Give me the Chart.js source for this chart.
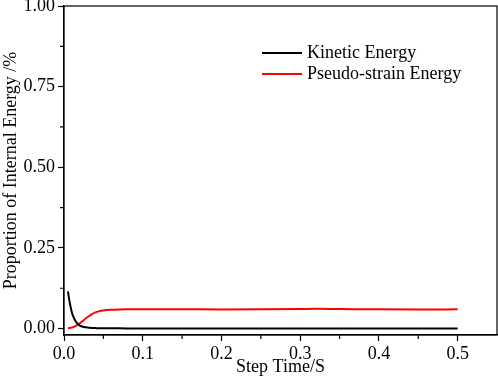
<!DOCTYPE html>
<html>
<head>
  <title>Internal Energy Proportion</title>
  <style>
    body { margin: 0; background: #fff; }
    canvas { display: block; }
  </style>
</head>
<body>
  <canvas id="energyChart" width="498" height="382"></canvas>

  <script src="https://cdn.jsdelivr.net/npm/chart.js"></script>
  <script>
    // values
    const stepTimes = [0.005, 0.0075, 0.01, 0.0125, 0.015, 0.0175, 0.02, 0.025, 0.03, 0.035, 0.04, 0.045, 0.05, 0.06, 0.07, 0.08, 0.1, 0.15, 0.2, 0.25, 0.3, 0.32, 0.35, 0.4, 0.45, 0.5];
    const kineticEnergy = [0.115, 0.078, 0.05, 0.033, 0.022, 0.014, 0.009, 0.005, 0.003, 0.002, 0.0015, 0.001, 0.001, 0.0008, 0.0006, 0.0005, 0.0004, 0.0003, 0.0003, 0.0003, 0.0003, 0.0003, 0.0003, 0.0003, 0.0003, 0.0003];
    const pseudoStrainEnergy = [0.002, 0.002, 0.003, 0.005, 0.008, 0.012, 0.016, 0.026, 0.036, 0.044, 0.05, 0.054, 0.056, 0.058, 0.059, 0.0595, 0.06, 0.06, 0.059, 0.0595, 0.0605, 0.061, 0.0605, 0.0595, 0.059, 0.0595];

    const xTicks = [0, 0.1, 0.2, 0.3, 0.4, 0.5];
    const yTicks = [0, 0.25, 0.5, 0.75, 1.0];

    const FONT = "'Liberation Serif', 'Times New Roman', serif";
    const toPoints = vals => vals.map((v, i) => ({ x: stepTimes[i], y: v }));

    // box frame, minor ticks and the in-plot legend
    const decor = {
      id: 'decor',
      afterDraw(chart) {
        const { ctx, chartArea: a, scales } = chart;
        ctx.save();
        ctx.strokeStyle = '#000';
        ctx.lineWidth = 1.2;
        ctx.strokeRect(a.left, a.top, a.right - a.left, a.bottom - a.top);

        ctx.beginPath();
        for (let i = 0; i < xTicks.length; i++) {
          const px = scales.x.getPixelForValue(xTicks[i] + 0.05);
          if (px > a.right - 2) continue;
          ctx.moveTo(px, a.bottom);
          ctx.lineTo(px, a.bottom + 4);
        }
        for (let i = 0; i < yTicks.length - 1; i++) {
          const py = scales.y.getPixelForValue(yTicks[i] + 0.125);
          ctx.moveTo(a.left, py);
          ctx.lineTo(a.left - 4, py);
        }
        ctx.stroke();

        ctx.font = '18px ' + FONT;
        ctx.textBaseline = 'middle';
        chart.data.datasets.forEach((ds, i) => {
          const y = a.top + 47 + i * 21;
          const x = a.left + 198;
          ctx.strokeStyle = ds.borderColor;
          ctx.lineWidth = 2;
          ctx.beginPath();
          ctx.moveTo(x, y);
          ctx.lineTo(x + 40, y);
          ctx.stroke();
          ctx.fillStyle = '#000';
          ctx.fillText(ds.label, x + 45, y);
        });
        ctx.restore();
      }
    };

    new Chart(document.getElementById('energyChart'), {
      type: 'line',
      data: {
        datasets: [
          { label: 'Kinetic Energy', data: toPoints(kineticEnergy), borderColor: '#000000', borderWidth: 2, pointRadius: 0, cubicInterpolationMode: 'monotone' },
          { label: 'Pseudo-strain Energy', data: toPoints(pseudoStrainEnergy), borderColor: '#ff0000', borderWidth: 2, pointRadius: 0, cubicInterpolationMode: 'monotone' }
        ]
      },
      options: {
        responsive: false,
        animation: false,
        layout: { padding: { top: 6, right: 1, left: 0, bottom: 0 } },
        plugins: { legend: { display: false }, tooltip: { enabled: false } },
        scales: {
          x: {
            type: 'linear',
            min: 0,
            max: 0.55,
            afterFit: s => { s.height = 47; s.paddingLeft = 0; s.paddingRight = 0; },
            afterBuildTicks: s => { s.ticks = xTicks.map(v => ({ value: v })); },
            ticks: { color: '#000', font: { family: FONT, size: 18 }, padding: 2, maxRotation: 0, callback: v => v.toFixed(1) },
            grid: { drawOnChartArea: false, tickLength: 6, tickColor: '#000', tickWidth: 1.2 },
            border: { color: '#000', width: 1.2 },
            title: { display: true, text: 'Step Time/S', color: '#000', font: { family: FONT, size: 18 }, padding: { top: 0 } }
          },
          y: {
            min: -0.02,
            max: 1.0,
            afterFit: s => { s.width = 64; s.paddingTop = 0; s.paddingBottom = 0; },
            afterBuildTicks: s => { s.ticks = yTicks.map(v => ({ value: v })); },
            ticks: { color: '#000', font: { family: FONT, size: 18 }, padding: 3, callback: v => v.toFixed(2) },
            grid: { drawOnChartArea: false, tickLength: 6, tickColor: '#000', tickWidth: 1.2 },
            border: { color: '#000', width: 1.2 },
            title: { display: true, text: 'Proportion of Internal Energy /%', color: '#000', font: { family: FONT, size: 18 }, padding: { top: 0, bottom: 0 } }
          }
        }
      },
      plugins: [decor]
    });
  </script>
</body>
</html>
